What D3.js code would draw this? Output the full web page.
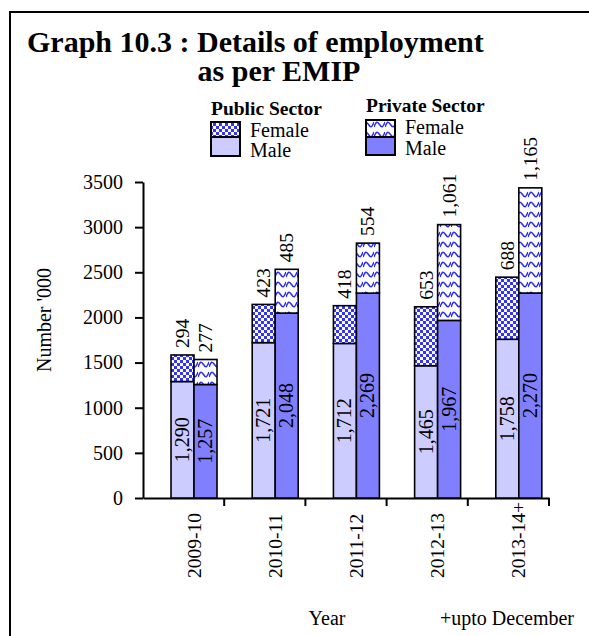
<!DOCTYPE html>
<html>
<head>
<meta charset="utf-8">
<script src="https://cdn.jsdelivr.net/npm/d3@7"></script>
<style>
  body { margin: 0; background: #fff; }
  svg text { font-family: "Liberation Serif", "Times New Roman", serif !important; fill: #000; }
</style>
</head>
<body>
<div id="chart"></div>
<script>
// data
const years = ["2009-10", "2010-11", "2011-12", "2012-13", "2013-14+"];
const publicMale = [1290, 1721, 1712, 1465, 1758];
const publicFemale = [294, 423, 418, 653, 688];
const privateMale = [1257, 2048, 2269, 1967, 2270];
const privateFemale = [277, 485, 554, 1061, 1165];
const yTicks = [0, 500, 1000, 1500, 2000, 2500, 3000, 3500];

const w = 589, h = 636;
const svg = d3.select("#chart").append("svg").attr("width", w).attr("height", h);

// patterns
const defs = svg.append("defs");
const checker = defs.append("pattern").attr("id", "checker")
  .attr("patternUnits", "userSpaceOnUse").attr("width", 6).attr("height", 6);
checker.append("rect").attr("width", 6).attr("height", 6).attr("fill", "#fff");
checker.append("rect").attr("width", 3).attr("height", 3).attr("fill", "#3333ff");
checker.append("rect").attr("x", 3).attr("y", 3).attr("width", 3).attr("height", 3).attr("fill", "#3333ff");

const wave = defs.append("pattern").attr("id", "wave")
  .attr("patternUnits", "userSpaceOnUse").attr("width", 11).attr("height", 10);
wave.append("rect").attr("width", 11).attr("height", 10).attr("fill", "#fff");
wave.append("path")
  .attr("d", "M0,7 C2.2,1 3.3,1 5.5,4.5 C7.7,8 8.8,8 11,2")
  .attr("fill", "none").attr("stroke", "#2a2aff").attr("stroke-width", 1.5);

// frame
svg.append("path").attr("d", "M10,636 L10,12 L589,12")
  .attr("fill", "none").attr("stroke", "#000").attr("stroke-width", 2);

// title
svg.append("text").attr("x", 27).attr("y", 52)
  .attr("font-size", 30).attr("font-weight", "bold")
  .text("Graph 10.3 : Details of employment");
svg.append("text").attr("x", 279).attr("y", 81).attr("text-anchor", "middle")
  .attr("font-size", 30).attr("font-weight", "bold")
  .text("as per EMIP");

// scales
const x = d3.scaleBand().domain(years).range([143, 549]);
const sub = d3.scaleBand().domain(["public", "private"])
  .range([x.bandwidth() * 0.345, x.bandwidth() * 0.345 + 46]);
const y = d3.scaleLinear().domain([0, 3500]).range([498, 182]);

// axes
const yAxis = svg.append("g").attr("transform", "translate(143,0)")
  .call(d3.axisLeft(y).tickValues(yTicks).tickFormat(d3.format("d")).tickSize(8).tickSizeOuter(0));
yAxis.select(".domain").attr("stroke-width", 2);
yAxis.selectAll(".tick line").attr("stroke-width", 2);
yAxis.selectAll(".tick text").attr("font-size", 20).attr("x", -20);

const xAxis = svg.append("g").attr("transform", "translate(0,498)")
  .call(d3.axisBottom(x).tickSize(0).tickSizeOuter(0).tickFormat(""));
xAxis.select(".domain").attr("stroke-width", 2);
xAxis.selectAll(".tick").remove();
// ticks at band boundaries
svg.append("g").selectAll("line")
  .data(years.map(d => x(d) + x.bandwidth()))
  .join("line")
  .attr("x1", d => d).attr("x2", d => d)
  .attr("y1", 498).attr("y2", 506)
  .attr("stroke", "#000").attr("stroke-width", 2);

// x labels, rotated, bottom-aligned
svg.append("g").selectAll("text")
  .data(years)
  .join("text")
  .attr("transform", d => `translate(${x(d) + sub("public") + 23 + 6.5},578) rotate(-90)`)
  .attr("font-size", 19.5)
  .text(d => d);

// axis titles
svg.append("text")
  .attr("transform", "translate(51,320) rotate(-90)")
  .attr("text-anchor", "middle").attr("font-size", 20)
  .text("Number '000");
svg.append("text").attr("x", 327).attr("y", 625).attr("text-anchor", "middle")
  .attr("font-size", 20).text("Year");
svg.append("text").attr("x", 440).attr("y", 625)
  .attr("font-size", 20).text("+upto December");

// bars
const groups = [
  { key: "public", male: publicMale, female: publicFemale, mColor: "#ccccff", fFill: "url(#checker)" },
  { key: "private", male: privateMale, female: privateFemale, mColor: "#8080ff", fFill: "url(#wave)" }
];

groups.forEach(g => {
  const gg = svg.append("g");
  const bx = (i) => x(years[i]) + sub(g.key);
  const bw = sub.bandwidth();
  // male
  gg.selectAll("rect.m").data(g.male).join("rect").attr("class", "m")
    .attr("x", (d, i) => bx(i)).attr("width", bw)
    .attr("y", d => y(d)).attr("height", d => y(0) - y(d))
    .attr("fill", g.mColor).attr("stroke", "#000").attr("stroke-width", 1.6);
  // female
  gg.selectAll("rect.f").data(g.female).join("rect").attr("class", "f")
    .attr("x", (d, i) => bx(i)).attr("width", bw)
    .attr("y", (d, i) => y(g.male[i] + d)).attr("height", (d, i) => y(g.male[i]) - y(g.male[i] + d))
    .attr("fill", g.fFill).attr("stroke", "#000").attr("stroke-width", 1.6);
  // male labels
  gg.selectAll("text.m").data(g.male).join("text").attr("class", "m")
    .attr("transform", (d, i) => `translate(${bx(i) + bw / 2 + 6.5},${(y(0) + y(d)) / 2}) rotate(-90)`)
    .attr("text-anchor", "middle").attr("font-size", 20)
    .text(d => d3.format(",")(d));
  // female labels above bar
  gg.selectAll("text.f").data(g.female).join("text").attr("class", "f")
    .attr("transform", (d, i) => `translate(${bx(i) + bw / 2 + 6.5},${y(g.male[i] + d) - 7}) rotate(-90)`)
    .attr("font-size", 19.5)
    .text(d => d3.format(",")(d));
});

// legend
function legend(x0, yTitle, yTop, yMid, yBot, title, fFill, mColor, fy, my) {
  const lg = svg.append("g");
  lg.append("text").attr("x", x0).attr("y", yTitle).attr("font-size", 19.5)
    .attr("font-weight", "bold").text(title);
  lg.append("rect").attr("x", x0).attr("y", yTop).attr("width", 29).attr("height", yMid - yTop)
    .attr("fill", fFill).attr("stroke", "#000").attr("stroke-width", 2);
  lg.append("rect").attr("x", x0).attr("y", yMid).attr("width", 29).attr("height", yBot - yMid)
    .attr("fill", mColor).attr("stroke", "#000").attr("stroke-width", 2);
  lg.append("text").attr("x", x0 + 39).attr("y", fy).attr("font-size", 20).text("Female");
  lg.append("text").attr("x", x0 + 39).attr("y", my).attr("font-size", 20).text("Male");
}
legend(211, 115, 122, 137, 156, "Public Sector", "url(#checker)", "#ccccff", 137, 157);
legend(366, 112, 120, 137, 155, "Private Sector", "url(#wave)", "#8080ff", 134, 155);
</script>
</body>
</html>
